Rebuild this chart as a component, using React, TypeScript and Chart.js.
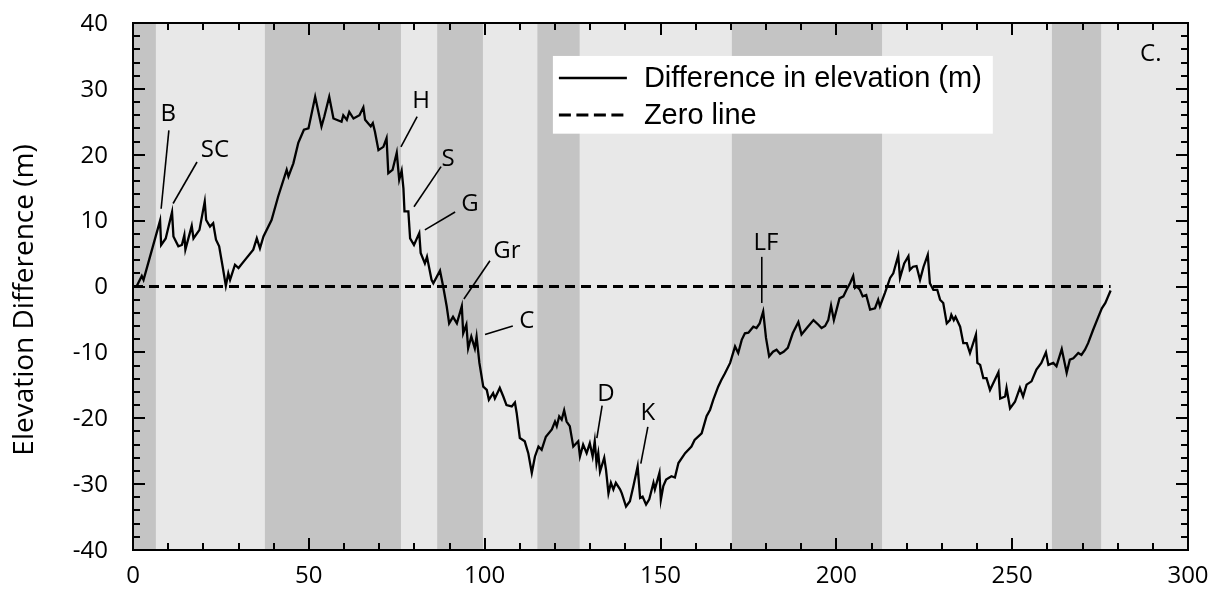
import React, { useEffect, useRef } from 'react';
import { Chart, registerables } from 'chart.js';

Chart.register(...registerables);

// ---------- DATA ----------
const distance = [
  1.0, 2.5, 3.0, 7.7, 8.0, 9.3, 11.1, 11.5, 12.9, 13.9, 14.6, 14.9, 16.7, 17.2, 18.9, 20.4, 20.8, 21.9, 22.8, 23.6,
  24.5, 25.5, 26.4, 27.1, 27.6, 29.0, 30.0, 31.8, 34.2, 35.2, 36.1, 37.1, 39.4, 41.3, 43.7, 44.2, 45.6, 47.0, 48.6, 49.9,
  51.8, 53.6, 54.4, 55.8, 57.0, 59.3, 59.8, 60.8, 61.5, 62.7, 64.4, 65.5, 66.0, 67.6, 68.2, 68.8, 69.8, 71.2, 72.1, 72.6,
  73.8, 75.0, 75.7, 76.4, 76.9, 77.2, 78.3, 78.8, 79.9, 81.4, 81.8, 83.0, 83.6, 84.9, 85.4, 87.3, 88.2, 89.2, 89.9, 91.0,
  92.1, 93.5, 93.9, 94.8, 95.3, 96.2, 97.2, 97.7, 98.5, 99.6, 100.6, 101.2, 102.4, 102.9, 104.3, 105.3, 106.2, 107.7, 108.6, 109.1,
  110.0, 111.4, 112.4, 113.4, 114.3, 115.3, 116.2, 117.4, 119.1, 120.0, 120.5, 121.2, 121.9, 122.6, 123.3, 124.2, 125.2, 126.6, 127.1, 128.0,
  129.0, 129.9, 130.7, 131.3, 131.8, 132.3, 132.8, 134.0, 134.5, 135.2, 135.9, 136.6, 137.3, 138.5, 139.0, 140.2, 141.3, 142.3, 143.5, 144.2,
  144.9, 145.9, 146.8, 148.0, 148.4, 149.7, 150.1, 150.8, 151.6, 153.1, 154.1, 155.1, 157.0, 158.8, 159.7, 161.7, 163.1, 164.1, 165.0, 166.4,
  167.3, 168.3, 169.8, 171.2, 172.1, 173.1, 174.0, 175.0, 176.4, 177.3, 178.2, 179.2, 180.0, 180.9, 182.0, 183.0, 184.0, 185.0, 186.2, 187.6,
  189.2, 190.1, 191.6, 193.5, 194.9, 195.8, 196.8, 197.7, 198.5, 199.3, 200.9, 202.0, 202.9, 203.9, 204.8, 205.3, 205.8, 206.7, 207.5, 208.5,
  209.6, 211.0, 211.9, 212.4, 213.8, 215.3, 216.2, 217.6, 218.1, 219.3, 220.5, 220.9, 221.8, 222.8, 223.8, 224.8, 226.0, 226.6, 227.6, 228.7,
  229.5, 230.4, 231.4, 232.3, 232.7, 233.4, 233.9, 235.2, 236.1, 237.1, 238.0, 239.7, 240.1, 240.9, 241.8, 242.7, 243.7, 246.1, 246.6, 248.0,
  248.4, 249.4, 250.8, 252.2, 253.1, 254.1, 255.5, 256.9, 258.3, 259.6, 260.3, 261.7, 262.6, 264.1, 265.5, 266.4, 267.4, 268.8, 269.7, 270.7,
  271.6, 273.0, 274.5, 275.5, 276.5, 278.0,
];
const elevationDiff = [
  0.0, 1.6, 1.0, 10.0, 6.3, 7.3, 11.3, 7.6, 6.1, 6.3, 7.8, 5.6, 9.2, 7.3, 8.6, 12.9, 10.1, 9.1, 9.6, 7.1,
  6.1, 3.0, 0.1, 2.0, 1.0, 3.3, 2.8, 4.0, 5.6, 7.3, 5.8, 7.6, 10.1, 13.7, 17.7, 16.7, 18.7, 21.8, 23.8, 24.0,
  28.8, 24.3, 25.8, 28.8, 25.5, 25.0, 26.0, 25.3, 26.5, 25.5, 26.0, 27.2, 25.3, 24.3, 24.8, 23.5, 20.7, 21.2, 22.5, 17.2,
  17.7, 20.3, 16.2, 17.6, 14.9, 11.4, 11.4, 7.3, 6.3, 8.1, 5.1, 3.5, 4.5, 1.0, 0.5, 2.4, 0.0, -3.0, -5.6, -4.6,
  -5.6, -3.0, -7.1, -5.8, -9.4, -7.6, -9.4, -7.6, -11.6, -15.2, -15.7, -17.2, -16.2, -17.0, -15.4, -16.7, -18.0, -18.2, -17.6, -19.2,
  -23.0, -23.5, -25.3, -28.3, -25.8, -24.3, -24.8, -22.8, -21.7, -20.5, -21.2, -19.7, -20.2, -18.8, -20.5, -21.2, -24.3, -23.5, -25.8, -24.0,
  -25.3, -23.8, -25.8, -23.5, -26.8, -25.3, -28.1, -26.0, -27.8, -31.4, -29.8, -30.8, -29.8, -30.8, -31.4, -33.4, -32.6, -30.3, -27.3, -32.1,
  -31.9, -33.1, -32.3, -29.8, -30.8, -28.3, -32.4, -30.3, -29.3, -28.8, -29.0, -26.8, -25.3, -24.3, -23.3, -22.3, -19.7, -18.7, -17.2, -15.2,
  -14.2, -13.2, -11.6, -9.1, -10.1, -8.1, -7.1, -7.0, -6.1, -6.3, -5.6, -3.8, -7.8, -10.6, -9.9, -9.6, -10.2, -9.9, -9.3, -7.1,
  -5.4, -7.3, -6.3, -5.1, -5.8, -6.3, -6.0, -5.1, -2.9, -5.1, -1.8, -1.5, -0.5, 0.5, 1.6, -0.2, 0.0, -0.5, -1.5, -1.3,
  -3.5, -3.3, -2.0, -3.0, -1.0, 1.3, 2.0, 4.7, 1.3, 3.5, 4.6, 2.5, 3.0, 3.1, 1.0, 3.0, 4.8, 0.5, -0.5, -0.5,
  -2.0, -2.5, -5.6, -5.1, -4.3, -5.1, -4.6, -6.1, -8.6, -8.6, -10.1, -7.3, -11.6, -11.9, -13.9, -13.9, -15.7, -13.0, -17.0, -16.7,
  -15.4, -18.5, -17.5, -15.4, -16.7, -14.9, -14.4, -12.6, -11.6, -10.0, -11.9, -11.6, -12.1, -9.5, -13.1, -11.1, -10.9, -10.1, -10.4, -9.6,
  -8.6, -6.6, -4.6, -3.3, -2.5, -0.6,
];

const zeroLineX = [0, 278];
const zeroLineY = [0, 0];

// shaded segments (darker bands) along distance
const darkBandStart = [0, 37.5, 86.5, 115.0, 170.3, 261.3];
const darkBandEnd = [6.5, 76.2, 99.5, 127.0, 213.0, 275.3];

const xTickLabels = [0, 50, 100, 150, 200, 250, 300];
const yTickLabels = [-40, -30, -20, -10, 0, 10, 20, 30, 40];

// labelled features
const featureLabels = ['B', 'SC', 'H', 'S', 'G', 'Gr', 'C', 'D', 'K', 'LF'];
const featureTextX = [10.0, 23.3, 81.9, 89.6, 95.8, 106.3, 112.0, 134.5, 146.4, 180.0];
const featureTextY = [26.2, 20.7, 28.2, 19.3, 12.5, 5.3, -5.2, -16.4, -19.2, 6.6];
const leaderFromX = [10.2, 18.2, 80.8, 87.6, 91.6, 101.5, 108.0, 133.4, 146.4, 178.8];
const leaderFromY = [23.7, 18.9, 25.8, 18.2, 11.3, 3.9, -6.0, -18.1, -21.3, 4.5];
const leaderToX = [8.0, 11.4, 76.2, 79.9, 83.0, 94.1, 100.1, 131.9, 144.4, 178.8];
const leaderToY = [11.8, 12.6, 21.2, 12.1, 8.6, -1.9, -7.3, -23.0, -26.9, -2.5];

const panelLabel = 'C.';
const panelLabelX = 289.4;
const panelLabelY = 35.2;

const yAxisTitle = 'Elevation Difference (m)';
const seriesLabel = 'Difference in elevation (m)';
const zeroLabel = 'Zero line';

// legend box corners in data units
const legendBoxX = [119.4, 244.5];
const legendBoxY = [35.0, 23.2];

const SANS = "'Open Sans', 'Noto Sans', sans-serif";
const ARIAL = "'Liberation Sans', Arial, sans-serif";

const decorPlugin = {
  id: 'decor',
  beforeDatasetsDraw(chart: any) {
    const { ctx, chartArea: a, scales } = chart;
    const xs = scales.x;
    ctx.save();
    ctx.fillStyle = '#e8e8e8';
    ctx.fillRect(a.left, a.top, a.right - a.left, a.bottom - a.top);
    ctx.fillStyle = '#c4c4c4';
    for (let i = 0; i < darkBandStart.length; i++) {
      const x0 = xs.getPixelForValue(darkBandStart[i]);
      const x1 = xs.getPixelForValue(darkBandEnd[i]);
      ctx.fillRect(x0, a.top, x1 - x0, a.bottom - a.top);
    }
    ctx.restore();
  },
  afterDatasetsDraw(chart: any) {
    const { ctx, chartArea: a, scales } = chart;
    const xs = scales.x;
    const ys = scales.y;
    ctx.save();

    // feature annotations
    ctx.strokeStyle = '#000';
    ctx.lineWidth = 1.6;
    ctx.fillStyle = '#000';
    ctx.font = `24px ${SANS}`;
    ctx.textAlign = 'center';
    ctx.textBaseline = 'middle';
    for (let i = 0; i < featureLabels.length; i++) {
      ctx.beginPath();
      ctx.moveTo(xs.getPixelForValue(leaderFromX[i]), ys.getPixelForValue(leaderFromY[i]));
      ctx.lineTo(xs.getPixelForValue(leaderToX[i]), ys.getPixelForValue(leaderToY[i]));
      ctx.stroke();
      ctx.fillText(featureLabels[i], xs.getPixelForValue(featureTextX[i]), ys.getPixelForValue(featureTextY[i]));
    }
    ctx.fillText(panelLabel, xs.getPixelForValue(panelLabelX), ys.getPixelForValue(panelLabelY));

    // legend
    const lx0 = xs.getPixelForValue(legendBoxX[0]);
    const lx1 = xs.getPixelForValue(legendBoxX[1]);
    const ly0 = ys.getPixelForValue(legendBoxY[0]);
    const ly1 = ys.getPixelForValue(legendBoxY[1]);
    ctx.fillStyle = '#ffffff';
    ctx.fillRect(lx0, ly0, lx1 - lx0, ly1 - ly0);
    const ds = chart.data.datasets;
    const rowY = [ly0 + 22, ly0 + 59];
    for (let i = 0; i < 2; i++) {
      ctx.beginPath();
      ctx.strokeStyle = '#000';
      ctx.lineWidth = i === 0 ? 2.6 : 3;
      ctx.setLineDash(i === 0 ? [] : [12, 5.5]);
      ctx.moveTo(lx0 + 6, rowY[i]);
      ctx.lineTo(lx0 + 74, rowY[i]);
      ctx.stroke();
      ctx.setLineDash([]);
      ctx.fillStyle = '#000';
      ctx.font = `29px ${ARIAL}`;
      ctx.textAlign = 'left';
      ctx.textBaseline = 'alphabetic';
      ctx.fillText(ds[i].label, lx0 + 91, rowY[i] + 9);
    }

    // frame
    ctx.strokeStyle = '#000';
    ctx.lineWidth = 2;
    ctx.strokeRect(a.left, a.top, a.right - a.left, a.bottom - a.top);

    // inward ticks on all four sides
    for (let v = 0; v <= 300; v += 10) {
      const px = Math.round(xs.getPixelForValue(v));
      const len = v % 50 === 0 ? 12 : 7;
      ctx.beginPath();
      ctx.moveTo(px, a.bottom);
      ctx.lineTo(px, a.bottom - len);
      ctx.moveTo(px, a.top);
      ctx.lineTo(px, a.top + len);
      ctx.stroke();
    }
    for (let v = -40; v <= 40; v += 2) {
      const py = Math.round(ys.getPixelForValue(v));
      const len = v % 10 === 0 ? 12 : 7;
      ctx.beginPath();
      ctx.moveTo(a.left, py);
      ctx.lineTo(a.left + len, py);
      ctx.moveTo(a.right, py);
      ctx.lineTo(a.right - len, py);
      ctx.stroke();
    }

    // tick labels
    ctx.fillStyle = '#000';
    ctx.font = `24px ${SANS}`;
    ctx.textBaseline = 'middle';
    ctx.textAlign = 'right';
    for (const v of yTickLabels) {
      ctx.fillText(String(v), a.left - 25, ys.getPixelForValue(v) + 1);
    }
    ctx.textAlign = 'center';
    for (const v of xTickLabels) {
      ctx.fillText(String(v), xs.getPixelForValue(v), a.bottom + 26);
    }

    // y axis title
    ctx.save();
    ctx.translate(25, 300);
    ctx.rotate(-Math.PI / 2);
    ctx.font = `28px ${SANS}`;
    ctx.fillStyle = '#000';
    ctx.textAlign = 'center';
    ctx.textBaseline = 'middle';
    ctx.fillText(yAxisTitle, 0, 0);
    ctx.restore();

    ctx.restore();
  },
};

export default function App() {
  const ref = useRef<HTMLCanvasElement | null>(null);

  useEffect(() => {
    document.body.style.margin = '0';
    const canvas = ref.current;
    if (!canvas) return;
    const chart = new Chart(canvas, {
      type: 'line',
      data: {
        datasets: [
          {
            label: seriesLabel,
            data: distance.map((x, i) => ({ x, y: elevationDiff[i] })),
            borderColor: '#000',
            borderWidth: 2.3,
            pointRadius: 0,
            tension: 0,
            fill: false,
          },
          {
            label: zeroLabel,
            data: zeroLineX.map((x, i) => ({ x, y: zeroLineY[i] })),
            borderColor: '#000',
            borderWidth: 3,
            borderDash: [10, 6],
            pointRadius: 0,
            fill: false,
          },
        ],
      },
      options: {
        animation: false,
        responsive: false,
        devicePixelRatio: 1,
        layout: { padding: { top: 23, right: 26, left: 133, bottom: 39 } },
        plugins: { legend: { display: false }, tooltip: { enabled: false }, title: { display: false } },
        scales: {
          x: { type: 'linear', min: 0, max: 300, display: false },
          y: { type: 'linear', min: -40, max: 40, display: false },
        },
      },
      plugins: [decorPlugin],
    });
    return () => chart.destroy();
  }, []);

  return (
    <div style={{ width: 1214, height: 589 }}>
      <canvas ref={ref} width={1214} height={589} style={{ display: 'block' }} />
    </div>
  );
}
